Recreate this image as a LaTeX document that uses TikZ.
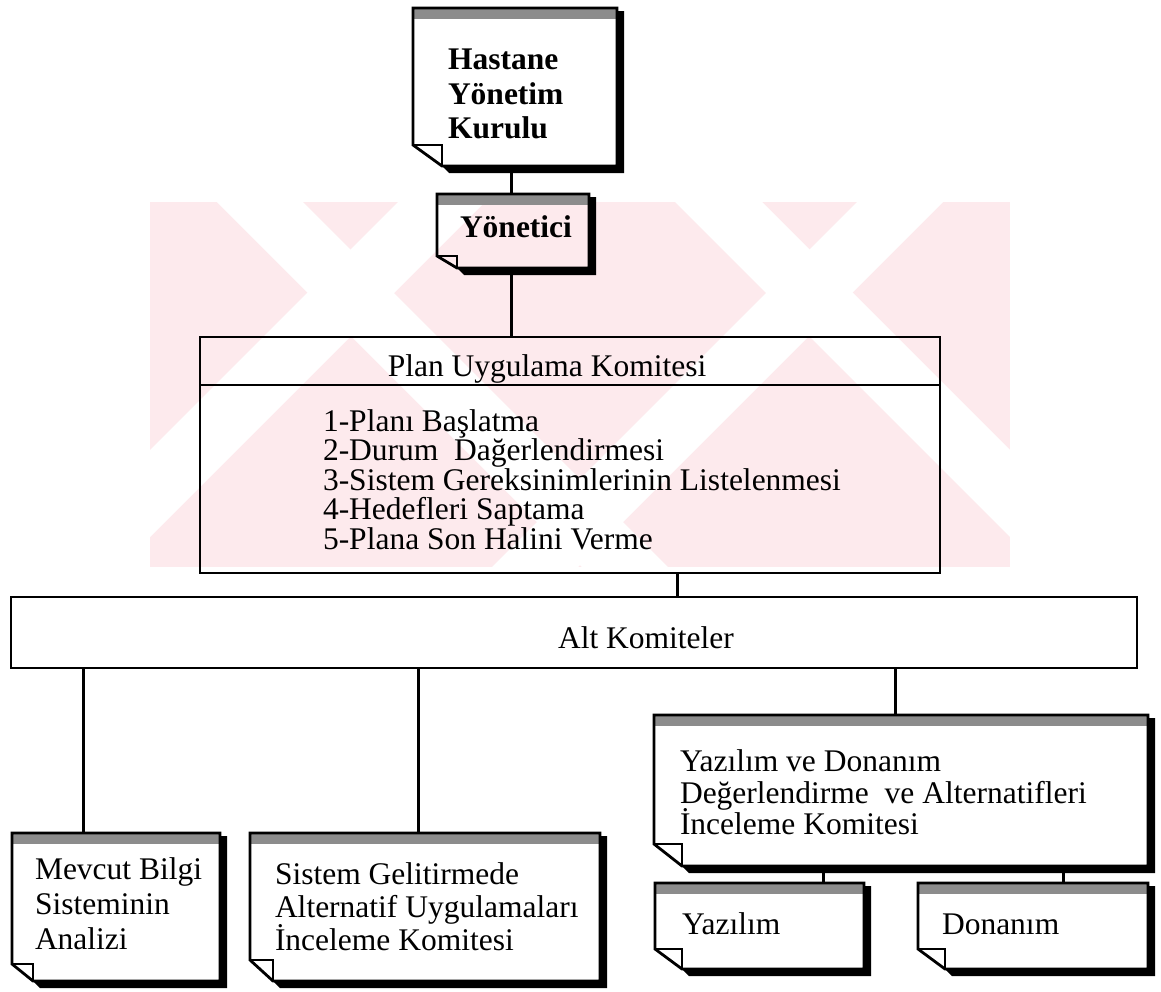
\documentclass[tikz,border=0pt]{standalone}
\usepackage{fontspec}
\setmainfont{Liberation Serif}
\usetikzlibrary{fit}
\definecolor{wmpink}{RGB}{253,234,237}
\definecolor{stripgray}{RGB}{140,140,140}
\tikzset{
  boxline/.style={line width=2.8pt, line join=miter},
  conn/.style={line width=3pt},
  txt/.style={anchor=base west, inner sep=0pt, outer sep=0pt, font=\fontsize{31.5}{36}\selectfont},
  txtb/.style={txt, font=\fontsize{31.5}{36}\selectfont\bfseries},
  txtc/.style={anchor=base, inner sep=0pt, outer sep=0pt, font=\fontsize{31.5}{36}\selectfont},
  frame/.style={inner sep=0pt, outer sep=0pt}
}
% name, L, T, R, B, fold-x, fold-y
\newcommand\notebox[7]{%
  \node[frame, fit={(#2,#3) (#4,#5)}] (#1) {};
  \fill[black] (#4,#3+3) -- (#4+7,#3+3) -- (#4+7,#5+7) -- (#2+#6+7,#5+7) -- (#2+#6,#5) -- (#4,#5) -- cycle;
  \fill[stripgray] (#2,#3) rectangle (#4,#3+11);
  \draw[boxline] (#2,#3) -- (#4,#3) -- (#4,#5) -- (#2+#6,#5) -- (#2,#5-#7) -- cycle;
  \draw[boxline] (#2,#5-#7) -- (#2+#6,#5-#7) -- (#2+#6,#5);
}
\begin{document}
\begin{tikzpicture}[x=1pt,y=-1pt]
\useasboundingbox (0,0) rectangle (1161,991);
% watermark
\begin{scope}
  \fill[wmpink] (150,202) rectangle (1010,567);
  \clip (150,202) rectangle (1010,567);
  \fill[white] (217,202) -- (303,202) -- (668,567) -- (582,567) -- cycle;
  \fill[white] (398,202) -- (485,202) -- (120,567) -- (33,567) -- cycle;
  \fill[white] (675,202) -- (762,202) -- (1127,567) -- (1040,567) -- cycle;
  \fill[white] (857,202) -- (943,202) -- (578,567) -- (492,567) -- cycle;
\end{scope}

% note boxes
\notebox{hast}{413}{8}{617}{166}{29}{21}
\notebox{yon}{437}{194}{589}{268}{20}{12}
\notebox{mev}{12}{833}{220}{981}{21}{17}
\notebox{sis}{250}{833}{600}{981}{23}{21}
\notebox{yd}{654}{715}{1148}{866}{28}{22}
\notebox{yaz}{655}{883}{864}{969}{27}{20}
\notebox{don}{918}{883}{1148}{969}{27}{20}

% plan box
\node[frame, fit={(200,337) (940,573)}] (plan) {};
\draw[boxline] (200,337) rectangle (940,573);
\draw[boxline] (200,385) -- (940,385);
% alt komiteler box
\node[frame, fit={(11,597) (1137,668)}] (alt) {};
\draw[boxline] (11,597) rectangle (1137,668);

% texts
\node[txtb] (h1) at (448,69) {Hastane};
\node[txtb] (h2) at (448,104) {Yönetim};
\node[txtb] (h3) at (448,138) {Kurulu};
\node[txtb] (y1) at (460,237) {Yönetici};
\node[txtc] (p0) at (547,376) {Plan Uygulama Komitesi};
\node[txt] (p1) at (323,431) {1-Planı Başlatma};
\node[txt] (p2) at (323,460) {2-Durum~~Dağerlendirmesi};
\node[txt] (p3) at (323,490) {3-Sistem Gereksinimlerinin Listelenmesi};
\node[txt] (p4) at (323,519) {4-Hedefleri Saptama};
\node[txt] (p5) at (323,549) {5-Plana Son Halini Verme};
\node[txtc] (a0) at (646,648) {Alt Komiteler};
\node[txt] (m1) at (35,879) {Mevcut Bilgi};
\node[txt] (m2) at (35,914) {Sisteminin};
\node[txt] (m3) at (35,949) {Analizi};
\node[txt] (s1) at (275,884) {Sistem Gelitirmede};
\node[txt] (s2) at (275,917) {Alternatif Uygulamaları};
\node[txt] (s3) at (275,950) {İnceleme Komitesi};
\node[txt] (d1) at (680,771) {Yazılım ve Donanım};
\node[txt] (d2) at (680,803) {Değerlendirme~~ve Alternatifleri};
\node[txt] (d3) at (680,834) {İnceleme Komitesi};
\node[txt] (z1) at (682,934) {Yazılım};
\node[txt] (n1) at (942,934) {Donanım};

% connector x positions
\coordinate (cx1) at (511,0);
\coordinate (cx2) at (677,0);
\coordinate (cx3) at (83,0);
\coordinate (cx4) at (418,0);
\coordinate (cx5) at (895,0);
\coordinate (cx6) at (823,0);
\coordinate (cx7) at (1063,0);

\draw[conn] (hast.south -| cx1) -- (yon.north -| cx1);
\draw[conn] (yon.south -| cx1) -- (plan.north -| cx1);
\draw[conn] (plan.south -| cx2) -- (alt.north -| cx2);
\draw[conn] (alt.south -| cx3) -- (mev.north -| cx3);
\draw[conn] (alt.south -| cx4) -- (sis.north -| cx4);
\draw[conn] (alt.south -| cx5) -- (yd.north -| cx5);
\draw[conn] (yd.south -| cx6) -- (yaz.north -| cx6);
\draw[conn] (yd.south -| cx7) -- (don.north -| cx7);
\end{tikzpicture}
\end{document}
